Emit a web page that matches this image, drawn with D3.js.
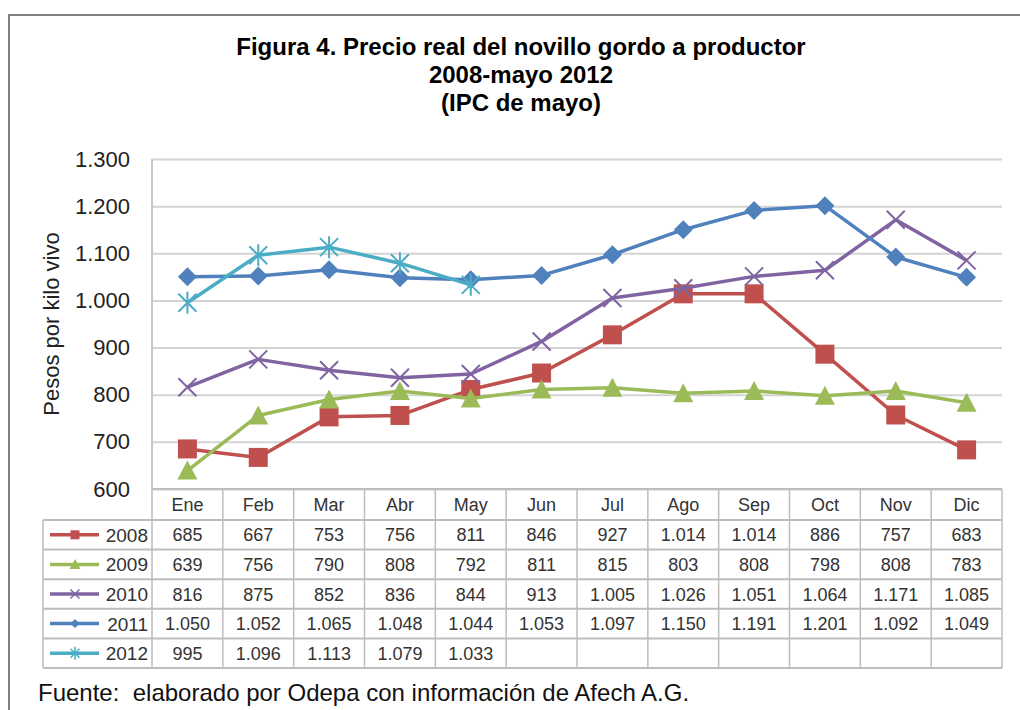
<!DOCTYPE html>
<html>
<head>
<meta charset="utf-8">
<script src="https://cdn.jsdelivr.net/npm/d3@7"></script>
<style>
  body { margin: 0; background: #fff; }
  svg { display: block; font-family: "Liberation Sans", Arial, sans-serif; }
</style>
</head>
<body>
<div id="chart"></div>
<script>
// data
var months = ['Ene', 'Feb', 'Mar', 'Abr', 'May', 'Jun', 'Jul', 'Ago', 'Sep', 'Oct', 'Nov', 'Dic'];
var years = ['2008', '2009', '2010', '2011', '2012'];
var v2008 = [685, 667, 753, 756, 811, 846, 927, 1014, 1014, 886, 757, 683];
var v2009 = [639, 756, 790, 808, 792, 811, 815, 803, 808, 798, 808, 783];
var v2010 = [816, 875, 852, 836, 844, 913, 1005, 1026, 1051, 1064, 1171, 1085];
var v2011 = [1050, 1052, 1065, 1048, 1044, 1053, 1097, 1150, 1191, 1201, 1092, 1049];
var v2012 = [995, 1096, 1113, 1079, 1033];
var yTicks = [600, 700, 800, 900, 1000, 1100, 1200, 1300];
var titleLines = ['Figura 4. Precio real del novillo gordo a productor', '2008-mayo 2012', '(IPC de mayo)'];

var seriesValues = [v2008, v2009, v2010, v2011, v2012];
var colors = ['#c0504d', '#9bbb59', '#8064a2', '#4f81bd', '#4bacc6'];
var shapes = ['square', 'triangle', 'x', 'diamond', 'star'];
var markerSizes = [19, 18, 18, 19, 18];

var series = years.map(function(yr, i) {
  return {year: yr, values: seriesValues[i], color: colors[i], shape: shapes[i], size: markerSizes[i]};
});

// spanish number format 1.050
var locale = d3.formatLocale({decimal: ',', thousands: '.', grouping: [3], currency: ['$', '']});
var fmt = locale.format(',d');

var W = 1020, H = 710;
var plotLeft = 152, plotRight = 1002, plotTop = 159, plotBottom = 489;

var svg = d3.select('#chart').append('svg')
    .attr('width', W)
    .attr('height', H);

svg.append('rect').attr('width', W).attr('height', H).attr('fill', '#fff');

// outer frame
svg.append('path')
    .attr('d', 'M9,' + H + ' V15 H' + W)
    .attr('fill', 'none')
    .attr('stroke', '#7f7f7f')
    .attr('stroke-width', 2);

// title
svg.append('g').selectAll('text')
    .data(titleLines)
    .enter().append('text')
    .attr('x', 521)
    .attr('y', function(d, i) { return 55 + i * 28; })
    .attr('text-anchor', 'middle')
    .attr('font-size', 24)
    .attr('font-weight', 'bold')
    .attr('fill', '#000')
    .text(function(d) { return d; });

var x = d3.scaleBand()
    .domain(months)
    .range([plotLeft, plotRight]);
var y = d3.scaleLinear()
    .domain([600, 1300])
    .range([plotBottom, plotTop]);

// gridlines
svg.append('g')
    .attr('class', 'grid')
    .attr('transform', 'translate(' + plotLeft + ',0)')
    .call(d3.axisLeft(y).tickValues(yTicks).tickSize(-(plotRight - plotLeft)).tickFormat(''))
    .call(function(g) { g.select('.domain').remove(); })
    .selectAll('line')
      .attr('stroke', '#d4d4d4')
      .attr('stroke-width', 2);

// y axis labels
svg.append('g')
    .attr('transform', 'translate(' + plotLeft + ',0)')
    .call(d3.axisLeft(y).tickValues(yTicks).tickSize(0).tickPadding(22).tickFormat(fmt))
    .call(function(g) { g.select('.domain').remove(); })
    .selectAll('text')
      .attr('font-size', 22)
      .attr('font-family', '"Liberation Sans", Arial, sans-serif')
      .attr('fill', '#222');

svg.append('text')
    .attr('transform', 'translate(59,' + (plotTop + plotBottom) / 2 + ') rotate(-90)')
    .attr('text-anchor', 'middle')
    .attr('font-size', 22)
    .attr('fill', '#222')
    .text('Pesos por kilo vivo');

// plot left border
svg.append('line')
    .attr('x1', plotLeft).attr('x2', plotLeft)
    .attr('y1', plotTop).attr('y2', plotBottom)
    .attr('stroke', '#c8c8c8')
    .attr('stroke-width', 2);

function markerPath(shape, s) {
  var h = s / 2;
  var p = d3.path();
  if (shape == 'square') {
    p.rect(-h, -h, s, s);
  } else if (shape == 'triangle') {
    p.moveTo(0, -h - 1); p.lineTo(h + 1, h); p.lineTo(-h - 1, h); p.closePath();
  } else if (shape == 'diamond') {
    p.moveTo(0, -h); p.lineTo(h, 0); p.lineTo(0, h); p.lineTo(-h, 0); p.closePath();
  } else if (shape == 'x') {
    p.moveTo(-h, -h); p.lineTo(h, h); p.moveTo(h, -h); p.lineTo(-h, h);
  } else {
    p.moveTo(-h, -h); p.lineTo(h, h); p.moveTo(h, -h); p.lineTo(-h, h);
    p.moveTo(0, -h - 2); p.lineTo(0, h + 2);
  }
  return p.toString();
}

var line = d3.line()
    .x(function(d, i) { return x(months[i]) + x.bandwidth() / 2; })
    .y(function(d) { return y(d); });

var sg = svg.selectAll('.series')
    .data(series)
    .enter().append('g')
    .attr('class', 'series');

sg.append('path')
    .attr('d', function(d) { return line(d.values); })
    .attr('fill', 'none')
    .attr('stroke', function(d) { return d.color; })
    .attr('stroke-width', 3.5)
    .attr('stroke-linejoin', 'round');

sg.each(function(s) {
  var open = (s.shape == 'x' || s.shape == 'star');
  d3.select(this).selectAll('.pt')
      .data(s.values)
      .enter().append('path')
      .attr('class', 'pt')
      .attr('transform', function(d, i) {
        return 'translate(' + (x(months[i]) + x.bandwidth() / 2) + ',' + y(d) + ')';
      })
      .attr('d', markerPath(s.shape, s.size))
      .attr('fill', open ? 'none' : s.color)
      .attr('stroke', s.color)
      .attr('stroke-width', open ? 2 : 0);
});

// data table
var rowY = d3.scaleBand()
    .domain(years)
    .range([520, 668]);
var tableLeft = 43;
var tableColor = '#bdbdbd';
var table = svg.append('g').attr('class', 'table');

// horizontal lines
table.append('line')
    .attr('x1', plotLeft).attr('x2', plotRight)
    .attr('y1', plotBottom).attr('y2', plotBottom)
    .attr('stroke', tableColor).attr('stroke-width', 2);
table.selectAll('.hline')
    .data(years.concat(['end']))
    .enter().append('line')
    .attr('class', 'hline')
    .attr('x1', tableLeft).attr('x2', plotRight)
    .attr('y1', function(d) { return d == 'end' ? 668 : rowY(d); })
    .attr('y2', function(d) { return d == 'end' ? 668 : rowY(d); })
    .attr('stroke', tableColor).attr('stroke-width', 2);

// vertical lines
table.selectAll('.vline')
    .data(months.concat(['end']))
    .enter().append('line')
    .attr('class', 'vline')
    .attr('x1', function(d) { return d == 'end' ? plotRight : x(d); })
    .attr('x2', function(d) { return d == 'end' ? plotRight : x(d); })
    .attr('y1', plotBottom).attr('y2', 668)
    .attr('stroke', tableColor).attr('stroke-width', 1.5);
table.append('line')
    .attr('x1', tableLeft).attr('x2', tableLeft)
    .attr('y1', 520).attr('y2', 668)
    .attr('stroke', tableColor).attr('stroke-width', 1.5);

// month header
table.selectAll('.mlabel')
    .data(months)
    .enter().append('text')
    .attr('class', 'mlabel')
    .attr('x', function(d) { return x(d) + x.bandwidth() / 2; })
    .attr('y', 511)
    .attr('text-anchor', 'middle')
    .attr('font-size', 18)
    .attr('fill', '#333')
    .text(function(d) { return d; });

// value cells
series.forEach(function(s) {
  table.selectAll('.c' + s.year)
      .data(s.values)
      .enter().append('text')
      .attr('x', function(d, i) { return x(months[i]) + x.bandwidth() / 2; })
      .attr('y', rowY(s.year) + rowY.bandwidth() / 2 + 6.5)
      .attr('text-anchor', 'middle')
      .attr('font-size', 18)
      .attr('fill', '#333')
      .text(function(d) { return fmt(d); });
});

// legend keys in first column
var keys = table.selectAll('.key')
    .data(series)
    .enter().append('g')
    .attr('class', 'key')
    .attr('transform', function(d) { return 'translate(0,' + (rowY(d.year) + rowY.bandwidth() / 2) + ')'; });

keys.append('line')
    .attr('x1', 50).attr('x2', 99)
    .attr('stroke', function(d) { return d.color; })
    .attr('stroke-width', 3.5);
keys.append('path')
    .attr('transform', 'translate(75,0)')
    .attr('d', function(d) { return markerPath(d.shape, 9); })
    .attr('fill', function(d) { return (d.shape == 'x' || d.shape == 'star') ? 'none' : d.color; })
    .attr('stroke', function(d) { return d.color; })
    .attr('stroke-width', function(d) { return (d.shape == 'x' || d.shape == 'star') ? 1.5 : 0; });
keys.append('text')
    .attr('x', 148)
    .attr('y', 7)
    .attr('text-anchor', 'end')
    .attr('font-size', 19)
    .attr('fill', '#333')
    .text(function(d) { return d.year; });

// source note
svg.append('text')
    .attr('x', 38)
    .attr('y', 701)
    .attr('font-size', 24)
    .attr('fill', '#111')
    .style('white-space', 'pre')
    .text('Fuente:  elaborado por Odepa con información de Afech A.G.');
</script>
</body>
</html>
